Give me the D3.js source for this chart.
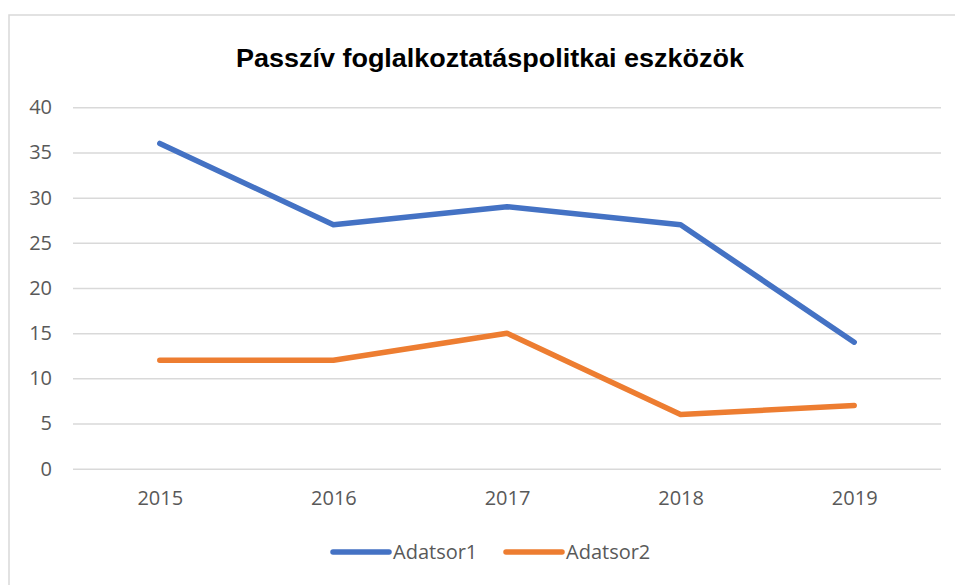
<!DOCTYPE html>
<html>
<head>
<meta charset="utf-8">
<script src="https://cdn.jsdelivr.net/npm/d3@7"></script>
<style>
  html, body { margin: 0; padding: 0; background: #fff; }
  svg { display: block; }
</style>
</head>
<body>
<svg id="chart" width="955" height="585"></svg>
<script>
const categories = ["2015", "2016", "2017", "2018", "2019"];
const seriesNames = ["Adatsor1", "Adatsor2"];
const adatsor1 = [36, 27, 29, 27, 14];
const adatsor2 = [12, 12, 15, 6, 7];
const yTicks = [0, 5, 10, 15, 20, 25, 30, 35, 40];
const colors = ["#4472C4", "#ED7D31"];
const title = "Passzív foglalkoztatáspolitkai eszközök";

const svg = d3.select("#chart");
const font = "'Open Sans', 'Segoe UI', sans-serif";

// chart border
svg.append("rect")
  .attr("x", 9).attr("y", 15).attr("width", 960).attr("height", 600)
  .attr("fill", "#fff").attr("stroke", "#d9d9d9").attr("stroke-width", 1.5);

const x = d3.scalePoint().domain(categories).range([73, 941]).padding(0.5);
const y = d3.scaleLinear().domain([0, 40]).range([468.7, 107.3]);

// title
svg.append("text")
  .attr("x", 490).attr("y", 67)
  .attr("text-anchor", "middle")
  .attr("font-family", "'Liberation Sans', Arial, sans-serif")
  .attr("font-weight", "bold")
  .attr("font-size", 25.5)
  .attr("textLength", 508)
  .attr("lengthAdjust", "spacingAndGlyphs")
  .attr("fill", "#000")
  .text(title);

// gridlines + y axis
const yAxis = d3.axisLeft(y).tickValues(yTicks).tickSize(-(941 - 73)).tickPadding(21);
const gy = svg.append("g").attr("transform", "translate(73,0)").call(yAxis);
gy.select(".domain").remove();
gy.selectAll(".tick line").attr("stroke", "#d9d9d9").attr("stroke-width", 1.5);
gy.selectAll(".tick text")
  .attr("font-family", font).attr("font-size", 20).attr("fill", "#595959");

// x axis labels
const xAxis = d3.axisBottom(x).tickSize(0).tickPadding(22);
const gx = svg.append("g").attr("transform", "translate(0,468.7)").call(xAxis);
gx.select(".domain").remove();
gx.selectAll(".tick text")
  .attr("font-family", font).attr("font-size", 20).attr("fill", "#595959");

// lines
const line = d3.line().x((d, i) => x(categories[i])).y(d => y(d));
[adatsor1, adatsor2].forEach((vals, k) => {
  svg.append("path")
    .datum(vals)
    .attr("d", line)
    .attr("fill", "none")
    .attr("stroke", colors[k])
    .attr("stroke-width", 5.5)
    .attr("stroke-linecap", "round")
    .attr("stroke-linejoin", "round");
});

// legend
const legendX = [333, 506];
seriesNames.forEach((name, k) => {
  const g = svg.append("g").attr("transform", `translate(${legendX[k]},552)`);
  g.append("line")
    .attr("x1", 0).attr("x2", 56).attr("y1", 0).attr("y2", 0)
    .attr("stroke", colors[k]).attr("stroke-width", 5.5).attr("stroke-linecap", "round");
  g.append("text")
    .attr("x", 60).attr("y", 7)
    .attr("font-family", font).attr("font-size", 20).attr("fill", "#595959")
    .text(name);
});
</script>
</body>
</html>
